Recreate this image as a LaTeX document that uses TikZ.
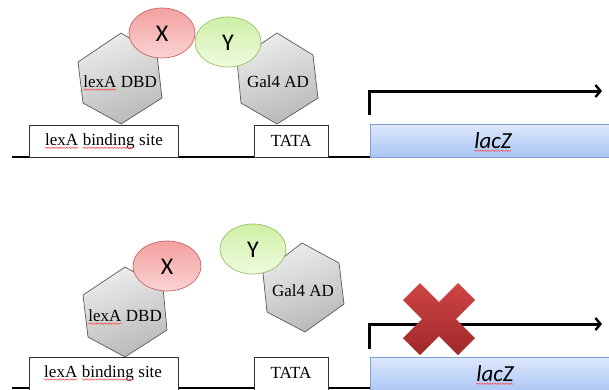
\documentclass[tikz,border=0pt]{standalone}
\usepackage{fontspec}
\setmainfont{Liberation Serif}
\newfontfamily\calib{Carlito}
\usetikzlibrary{arrows.meta,decorations.pathmorphing}
\newcommand\redwave[1]{\begin{tikzpicture}[baseline=(w.base),x=1pt,y=1pt]
  \node[inner sep=0pt, outer sep=0pt, anchor=base] (w) at (0,0) {#1};
  \draw[red!75, line width=0.45pt, decorate, decoration={snake, amplitude=0.7pt, segment length=2.6pt}]
    ([yshift=-2.4pt]w.base west) -- ([yshift=-2.4pt]w.base east);
  \end{tikzpicture}}
\definecolor{hexborder}{HTML}{595959}
\definecolor{xborder}{HTML}{C86464}
\definecolor{yborder}{HTML}{9DBE66}
\definecolor{lacborder}{HTML}{7F9FD6}
\definecolor{xtop}{HTML}{F3A0A0}
\definecolor{xbot}{HTML}{FBD3D3}
\definecolor{ytop}{HTML}{CFF0A6}
\definecolor{ybot}{HTML}{EEFBDF}
\definecolor{ltop}{HTML}{DDE8FB}
\definecolor{lbot}{HTML}{AAC6F5}
\definecolor{ctop}{HTML}{CE4545}
\definecolor{cbot}{HTML}{A02828}
\tikzset{
  hexa/.style={draw=hexborder, line width=0.7pt, top color=gray!15, bottom color=gray!55, shading angle=20},
  xell/.style={draw=xborder, line width=0.7pt, top color=xtop, bottom color=xbot},
  yell/.style={draw=yborder, line width=0.7pt, top color=ytop, bottom color=ybot},
  site/.style={draw=black!80, line width=0.6pt, fill=white},
  lacz/.style={draw=lacborder, line width=0.6pt, top color=ltop, bottom color=lbot},
  lbl/.style={font=\fontsize{17}{17}\selectfont, inner sep=0pt},
  big/.style={font=\calib\fontsize{24}{24}\selectfont, inner sep=0pt},
  bigit/.style={font=\calib\itshape\fontsize{23}{23}\selectfont, inner sep=0pt},
  dna/.style={line width=2.8pt, black},
  tx/.style={line width=3pt, black, -{Straight Barb[length=5pt,width=12pt,line width=2.4pt]}},
  cross/.style={top color=ctop, bottom color=cbot, draw=none},
}
\begin{document}
\begin{tikzpicture}[x=1pt,y=-1pt]
\useasboundingbox (0,0) rectangle (609,389);
% ---------- top panel ----------
\draw[dna] (12,157) -- (372,157);
\draw[lacz] (370,124) rectangle (615,157);
\node[bigit] (lacz1) at (493,142) {\redwave{lacZ}};
\node[site, minimum width=149pt, minimum height=32pt, anchor=north west] (bs1) at (29,125) {};
\node[lbl] (bs1t) at (bs1.center) {\redwave{lexA} \redwave{binding} site};
\node[site, minimum width=74pt, minimum height=32pt, anchor=north west] (tata1) at (254,125) {};
\node[lbl] (tata1t) at (tata1.center) {TATA};
\draw[hexa] (121,33) -- (157,55) -- (162,98) -- (121,124) -- (83,103) -- (78,62) -- cycle;
\node[lbl] (dbd1) at (120,83) {\redwave{lexA} DBD};
\draw[hexa] (277,33) -- (313,55) -- (318,98) -- (277,124) -- (241,103) -- (237,60) -- cycle;
\node[lbl] (ad1) at (278,82) {Gal4 AD};
\draw[xell] (162,33) ellipse [x radius=33, y radius=25];
\node[big] (x1) at (162,34) {X};
\draw[yell] (228,42) ellipse [x radius=33, y radius=25];
\node[big] (y1) at (228,43) {Y};
\coordinate (a1s) at (369,115);
\coordinate (a1c) at (369,91);
\coordinate (a1e) at (602,91);
\draw[tx] (a1s) -- (a1c) -- (a1e);
% ---------- bottom panel ----------
\draw[dna] (12,388) -- (372,388);
\draw[lacz] (370,357) rectangle (615,392);
\node[bigit] (lacz2) at (495,375) {\redwave{lacZ}};
\node[site, minimum width=149pt, minimum height=34pt, anchor=north west] (bs2) at (29,357) {};
\node[lbl] (bs2t) at (103,373) {\redwave{lexA} \redwave{binding} site};
\node[site, minimum width=74pt, minimum height=34pt, anchor=north west] (tata2) at (254,357) {};
\node[lbl] (tata2t) at (291,373) {TATA};
\draw[hexa] (125,267) -- (163,288) -- (167,330) -- (125,357) -- (88,337) -- (83,295) -- cycle;
\node[lbl] (dbd2) at (125,317) {\redwave{lexA} DBD};
\draw[hexa] (302,243) -- (339,263) -- (344,304) -- (305,332) -- (267,312) -- (263,273) -- cycle;
\node[lbl] (ad2) at (303,291) {Gal4 AD};
\draw[xell] (167,266) ellipse [x radius=34, y radius=25];
\node[big] (x2) at (167,267) {X};
\draw[yell] (253,249) ellipse [x radius=33, y radius=25];
\node[big] (y2) at (253,250) {Y};
\coordinate (a2s) at (369,349);
\coordinate (a2c) at (369,324);
\coordinate (a2e) at (602,324);
\draw[tx] (a2s) -- (a2c) -- (a2e);
% red cross
\begin{scope}[shift={(439,319)}]
\shade[cross] (0,-17) -- (-19,-36) -- (-36,-19) -- (-17,0) -- (-36,19) -- (-19,36)
  -- (0,17) -- (19,36) -- (36,19) -- (17,0) -- (36,-19) -- (19,-36) -- cycle;
\end{scope}
\end{tikzpicture}
\end{document}
